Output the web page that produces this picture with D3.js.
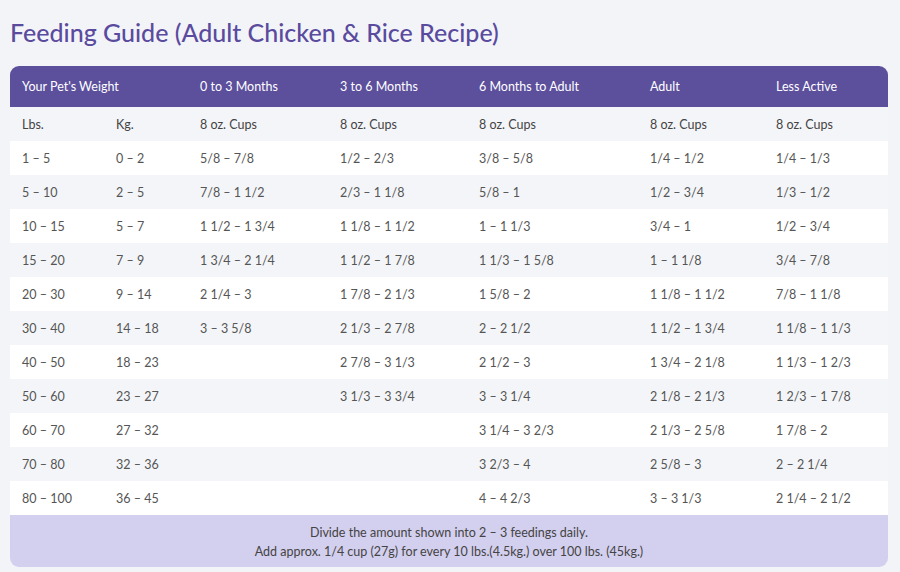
<!DOCTYPE html><html><head><meta charset="utf-8">
<script src="https://cdn.jsdelivr.net/npm/d3@7"></script>
<style>body{margin:0;background:#f3f4f8;}</style></head><body>
<svg id="c" width="900" height="572"></svg>
<script>
const title = "Feeding Guide (Adult Chicken & Rice Recipe)";
const headers = ["Your Pet's Weight","","0 to 3 Months","3 to 6 Months","6 Months to Adult","Adult","Less Active"];
const subHeaders = ["Lbs.","Kg.","8 oz. Cups","8 oz. Cups","8 oz. Cups","8 oz. Cups","8 oz. Cups"];
const lbs = ["1 – 5","5 – 10","10 – 15","15 – 20","20 – 30","30 – 40","40 – 50","50 – 60","60 – 70","70 – 80","80 – 100"];
const kg = ["0 – 2","2 – 5","5 – 7","7 – 9","9 – 14","14 – 18","18 – 23","23 – 27","27 – 32","32 – 36","36 – 45"];
const m0to3 = ["5/8 – 7/8","7/8 – 1 1/2","1 1/2 – 1 3/4","1 3/4 – 2 1/4","2 1/4 – 3","3 – 3 5/8","","","","",""];
const m3to6 = ["1/2 – 2/3","2/3 – 1 1/8","1 1/8 – 1 1/2","1 1/2 – 1 7/8","1 7/8 – 2 1/3","2 1/3 – 2 7/8","2 7/8 – 3 1/3","3 1/3 – 3 3/4","","",""];
const m6toAdult = ["3/8 – 5/8","5/8 – 1","1 – 1 1/3","1 1/3 – 1 5/8","1 5/8 – 2","2 – 2 1/2","2 1/2 – 3","3 – 3 1/4","3 1/4 – 3 2/3","3 2/3 – 4","4 – 4 2/3"];
const adult = ["1/4 – 1/2","1/2 – 3/4","3/4 – 1","1 – 1 1/8","1 1/8 – 1 1/2","1 1/2 – 1 3/4","1 3/4 – 2 1/8","2 1/8 – 2 1/3","2 1/3 – 2 5/8","2 5/8 – 3","3 – 3 1/3"];
const lessActive = ["1/4 – 1/3","1/3 – 1/2","1/2 – 3/4","3/4 – 7/8","7/8 – 1 1/8","1 1/8 – 1 1/3","1 1/3 – 1 2/3","1 2/3 – 1 7/8","1 7/8 – 2","2 – 2 1/4","2 1/4 – 2 1/2"];
const footer = ["Divide the amount shown into 2 – 3 feedings daily.","Add approx. 1/4 cup (27g) for every 10 lbs.(4.5kg.) over 100 lbs. (45kg.)"];

const cols=[lbs,kg,m0to3,m3to6,m6toAdult,adult,lessActive];
const colX=[22,116,200,340,479,650,776];
const svg=d3.select("#c");
const F="Lato, 'Open Sans', sans-serif";
svg.append("text").attr("x",10).attr("y",42).attr("fill","#5a4b9e").attr("font-family",F).attr("font-size",25).attr("font-weight",500).text(title);
const L=10,R=888,T=66,hh=41,rh=34;
const clip=svg.append("defs").append("clipPath").attr("id","cp");
clip.append("rect").attr("x",L).attr("y",T).attr("width",R-L).attr("height",501).attr("rx",9);
const g=svg.append("g").attr("clip-path","url(#cp)");
const y=d3.scaleBand().domain(d3.range(12)).range([T+hh,T+hh+12*rh]);
g.append("rect").attr("x",L).attr("y",T).attr("width",R-L).attr("height",hh).attr("fill","#5c4f9c");
g.selectAll("rect.r").data(d3.range(12)).join("rect").attr("x",L).attr("y",d=>y(d)).attr("width",R-L).attr("height",rh).attr("fill",d=>d%2?"#ffffff":"#f4f5f8");
const fy=T+hh+12*rh;
g.append("rect").attr("x",L).attr("y",fy).attr("width",R-L).attr("height",567-fy).attr("fill","#d3cfee");
svg.selectAll("text.h").data(headers).join("text").attr("x",(d,i)=>colX[i]).attr("y",T+hh/2+4.5).attr("fill","#fff").attr("font-family",F).attr("font-size",12.5).text(d=>d);
svg.selectAll("text.s").data(subHeaders).join("text").attr("x",(d,i)=>colX[i]).attr("y",y(0)+rh/2+4.5).attr("fill","#444").attr("font-family",F).attr("font-size",12.5).text(d=>d);
cols.forEach((c,ci)=>{
 svg.selectAll(null).data(c).join("text").attr("x",colX[ci]).attr("y",(d,i)=>y(i+1)+rh/2+4.5).attr("fill","#555").attr("font-family",F).attr("font-size",12.5).text(d=>d);
});
svg.selectAll("text.f").data(footer).join("text").attr("x",(L+R)/2).attr("y",(d,i)=>fy+22+i*19).attr("text-anchor","middle").attr("fill","#444").attr("font-family",F).attr("font-size",12.5).text(d=>d);
</script></body></html>
